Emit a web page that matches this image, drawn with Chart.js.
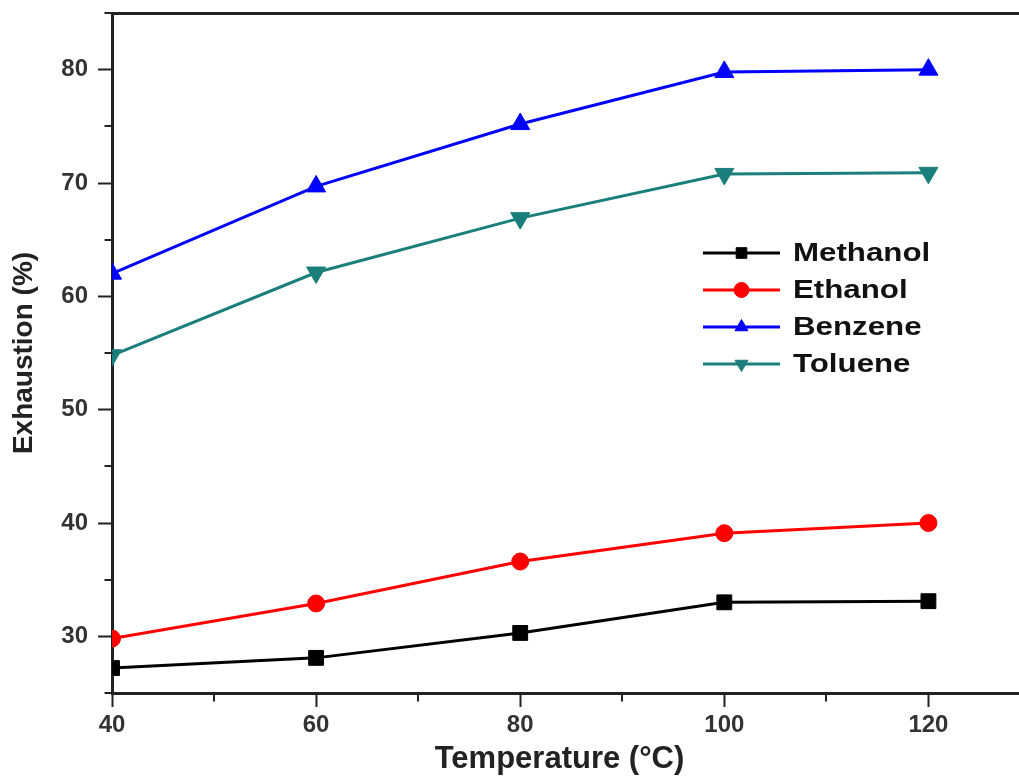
<!DOCTYPE html>
<html>
<head>
    <title>Exhaustion vs Temperature</title>
    <script src="https://cdn.jsdelivr.net/npm/chart.js"></script>
    <style>
        body {
            margin: 0;
            background-color: #fff;
            font-family: Arial, sans-serif;
        }
        #wrap {
            width: 1019px;
            height: 778px;
        }
    </style>
</head>
<body>
<div id="wrap">
    <canvas id="exhChart" width="1019" height="778"></canvas>
</div>

<script>
    const temps = [40, 60, 80, 100, 120];
    const methanol = [27.2, 28.1, 30.3, 33.0, 33.1];
    const ethanol = [29.8, 32.9, 36.6, 39.1, 40.0];
    const benzene = [62.0, 69.7, 75.2, 79.8, 80.0];
    const toluene = [54.8, 62.1, 66.9, 70.8, 70.9];

    const xTicks = [40, 60, 80, 100, 120];
    const xMinor = [50, 70, 90, 110];
    const yTicks = [30, 40, 50, 60, 70, 80];
    const yMinor = [25, 35, 45, 55, 65, 75, 85];

    const axisColor = '#222';
    const labelFont = { family: 'Arial', size: 24, weight: 'bold' };

    function pts(vals) {
        return temps.map((t, i) => ({ x: t, y: vals[i] }));
    }

    function series(label, vals, color, style, radius, rot) {
        return {
            label: label,
            data: pts(vals),
            borderColor: color,
            backgroundColor: color,
            borderWidth: 3,
            pointStyle: style,
            pointRadius: radius,
            pointRotation: rot || 0,
            pointBorderWidth: 1,
            pointBorderColor: color,
            tension: 0
        };
    }

    // no extra room for first/last labels
    function noPad(s) {
        s.paddingTop = 0;
        s.paddingBottom = 0;
        s.paddingLeft = 0;
        s.paddingRight = 0;
    }

    // same snapping chart.js uses for 3px borders
    function snap(p) {
        return Math.round(p - 1.5) + 1.5;
    }

    // top frame line, axis run-out to the right edge, minor ticks
    const frame = {
        id: 'frame',
        afterDraw(chart) {
            const c = chart.ctx, a = chart.chartArea;
            const xs = chart.scales.x, ys = chart.scales.y;
            const left = snap(a.left), bottom = snap(a.bottom);
            c.save();
            c.strokeStyle = axisColor;
            c.lineWidth = 3;
            c.beginPath();
            c.moveTo(left, snap(a.top));
            c.lineTo(chart.width, snap(a.top));
            c.moveTo(a.right - 2, bottom);
            c.lineTo(chart.width, bottom);
            c.stroke();
            c.lineWidth = 2;
            c.beginPath();
            xMinor.forEach(v => {
                const px = Math.round(xs.getPixelForValue(v));
                c.moveTo(px, bottom);
                c.lineTo(px, bottom + 8);
            });
            yMinor.forEach(v => {
                const py = Math.round(ys.getPixelForValue(v));
                c.moveTo(left, py);
                c.lineTo(left - 8, py);
            });
            c.stroke();
            c.restore();
        }
    };

    // legend inside the plot
    const innerLegend = {
        id: 'innerLegend',
        afterDraw(chart) {
            const c = chart.ctx;
            const x0 = 703, x1 = 780, tx = 793, y0 = 253, dy = 37;
            c.save();
            chart.data.datasets.forEach((ds, i) => {
                const y = y0 + i * dy;
                c.strokeStyle = ds.borderColor;
                c.lineWidth = 3;
                c.beginPath();
                c.moveTo(x0, y);
                c.lineTo(x1, y);
                c.stroke();
                c.fillStyle = ds.borderColor;
                c.lineWidth = 1;
                Chart.helpers.drawPoint(c, {
                    pointStyle: ds.pointStyle,
                    radius: 7.5,
                    rotation: ds.pointRotation,
                    borderWidth: 1
                }, (x0 + x1) / 2, y);
                c.save();
                c.translate(tx, y + 1);
                c.scale(1.25, 1);
                c.fillStyle = '#111';
                c.font = 'bold 25px Arial';
                c.textAlign = 'left';
                c.textBaseline = 'middle';
                c.fillText(ds.label, 0, 0);
                c.restore();
            });
            c.restore();
        }
    };

    const ctx = document.getElementById('exhChart').getContext('2d');
    const chart = new Chart(ctx, {
        type: 'line',
        data: {
            datasets: [
                series('Methanol', methanol, '#000000', 'rect', 10.5),
                series('Ethanol', ethanol, '#ff0000', 'circle', 8.5),
                series('Benzene', benzene, '#0000ff', 'triangle', 11),
                series('Toluene', toluene, '#1a7f7a', 'triangle', 11, 180)
            ]
        },
        options: {
            responsive: false,
            animation: false,
            layout: { padding: { top: 13, right: 0, left: 0, bottom: 0 } },
            plugins: { legend: { display: false }, tooltip: { enabled: false } },
            scales: {
                x: {
                    type: 'linear',
                    min: 40,
                    max: 127.7,
                    afterBuildTicks: s => { s.ticks = xTicks.map(v => ({ value: v })); },
                    afterFit: s => { s.height = 85; noPad(s); },
                    grid: { drawOnChartArea: false, tickLength: 14, tickWidth: 2, tickColor: axisColor },
                    border: { color: axisColor, width: 3 },
                    ticks: { font: labelFont, color: '#333', padding: 4, maxRotation: 0 },
                    title: {
                        display: true, text: 'Temperature (°C)',
                        font: { family: 'Arial', size: 31, weight: 'bold' },
                        color: '#222', padding: { top: 0, bottom: 0 }
                    }
                },
                y: {
                    min: 25,
                    max: 85,
                    afterBuildTicks: s => { s.ticks = yTicks.map(v => ({ value: v })); },
                    afterFit: s => { s.width = 112; noPad(s); },
                    grid: { drawOnChartArea: false, tickLength: 14, tickWidth: 2, tickColor: axisColor },
                    border: { color: axisColor, width: 3 },
                    ticks: { font: labelFont, color: '#333', padding: 10 },
                    title: {
                        display: true, text: 'Exhaustion (%)',
                        font: { family: 'Arial', size: 28, weight: 'bold' },
                        color: '#222', padding: { top: 7, bottom: 0 }
                    }
                }
            }
        },
        plugins: [frame, innerLegend]
    });
</script>
</body>
</html>
